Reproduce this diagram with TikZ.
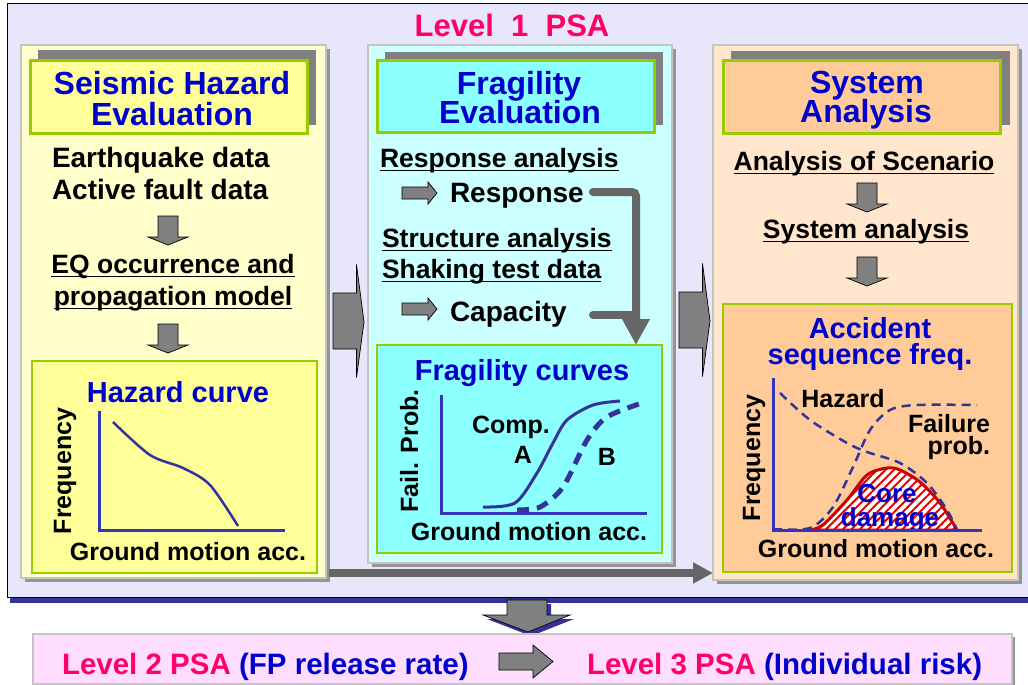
\documentclass[tikz,border=0pt]{standalone}
\usepackage{fontspec}
\setmainfont{Liberation Sans}
\usetikzlibrary{arrows.meta,patterns.meta}
\newcommand{\ulx}[1]{\setbox0\hbox{#1}\rlap{\rule[-4.3pt]{\wd0}{1.8pt}}\box0}
\newcommand{\fsz}[2]{\fontsize{#1}{#2}\selectfont}
\definecolor{frameBG}{HTML}{E8E6FA}
\definecolor{navy}{HTML}{333399}
\definecolor{panY}{HTML}{FFFFCC}
\definecolor{titY}{HTML}{FFFF99}
\definecolor{panC}{HTML}{CCFFFF}
\definecolor{titC}{HTML}{8CFFFF}
\definecolor{panO}{HTML}{FFE6CC}
\definecolor{titO}{HTML}{FFCC99}
\definecolor{greenB}{HTML}{99CC00}
\definecolor{pborder}{HTML}{C4C4C4}
\definecolor{pshadow}{HTML}{959595}
\definecolor{tshadow}{HTML}{808080}
\definecolor{tblue}{HTML}{0000CC}
\definecolor{pinkR}{HTML}{FF0066}
\definecolor{axblue}{HTML}{3333BB}
\definecolor{crvblue}{HTML}{333399}
\definecolor{conngray}{HTML}{666666}
\definecolor{arrgray}{HTML}{808080}
\definecolor{botpink}{HTML}{FFDDFF}
\definecolor{cdred}{HTML}{CC0000}
\tikzset{
  darrow/.pic={\path[blk] (-10,0) -- (10,0) -- (10,21) -- (20,21) -- (0,29) -- (-20,21) -- (-10,21) -- cycle;},
  rarrow/.pic={\path[blk] (0,-6) -- (26,-6) -- (26,-11) -- (35,0) -- (26,11) -- (26,6) -- (0,6) -- cycle;},
  sarrow/.pic={\path[blk] (0,-28) -- (23.5,-28) -- (23.5,-56.5) -- (31,1) -- (23.5,56.5) -- (23.5,28) -- (0,28) -- cycle;},
  barrow/.pic={\path[blk] (0,-8.5) -- (34,-8.5) -- (34,-16.5) -- (54,0) -- (34,16.5) -- (34,8.5) -- (0,8.5) -- cycle;}
}
\begin{document}
\begin{tikzpicture}[x=1pt,y=-1pt,
  every node/.style={inner sep=0pt,outer sep=0pt},
  txt/.style={font=\bfseries\fsz{28}{32}},
  utx/.style={font=\bfseries\fsz{26.5}{30}},
  ttl/.style={font=\bfseries\fsz{32}{32},text=tblue},
  sub/.style={font=\bfseries\fsz{29}{29},text=tblue},
  lab/.style={font=\bfseries\fsz{25}{25}},
  blk/.style={fill=arrgray,draw=black,line width=0.7pt},
  conn/.style={draw=conngray,line width=8pt},
  axis/.style={draw=axblue,line width=3pt},
  crv/.style={draw=crvblue,line width=2.5pt},
  dsh/.style={draw=crvblue,line width=2.5pt,dash pattern=on 9pt off 6pt},
  panel/.style={draw=pborder,line width=2.5pt,anchor=north west},
  tbox/.style={draw=greenB,line width=3pt,anchor=north west},
  gbox/.style={draw=greenB,line width=1.5pt,anchor=north west}
]
\useasboundingbox (0,0) rectangle (1028,685);
% outer frame
\fill[navy] (10,8) rectangle (1040,603);
\node[draw=black,line width=1pt,fill=frameBG,anchor=north west,minimum width=1040pt,minimum height=593pt] (frame) at (7,4) {};
\node[font=\bfseries\fsz{31}{31},text=pinkR,anchor=base] (l1psa) at (512,37) {Level\ \ 1\ \ PSA};

% panel shadows
\fill[pshadow] (25,49) rectangle (330,582);
\fill[pshadow] (372,49) rectangle (676,567);
\fill[pshadow] (717,49) rectangle (1022,584);
% panels
\node[panel,fill=panY,minimum width=305pt,minimum height=533pt] (lp) at (21,45) {};
\node[panel,fill=panC,minimum width=304pt,minimum height=518pt] (mp) at (368,45) {};
\node[panel,fill=panO,minimum width=305pt,minimum height=535pt] (rp) at (713,45) {};
% title shadows
\fill[tshadow] (38,50) rectangle (316,125);
\fill[tshadow] (385,52) rectangle (663,125);
\fill[tshadow] (731,51) rectangle (1010,125);
% title boxes
\node[tbox,fill=titY,minimum width=277pt,minimum height=72pt] (ltb) at (30,61) {};
\node[tbox,fill=titC,minimum width=277pt,minimum height=71pt] (mtb) at (377,61) {};
\node[tbox,fill=titO,minimum width=277pt,minimum height=72pt] (rtb) at (723,61) {};

% ---------- left panel ----------
\node[ttl,anchor=base] (lt1) at (172,95) {Seismic Hazard};
\node[ttl,anchor=base] (lt2) at (172,125) {Evaluation};
\node[txt,anchor=base west] (eq1) at (52,167) {Earthquake data};
\node[txt,anchor=base west] (eq2) at (52,199) {Active fault data};
\pic at (168,216) {darrow};
\node[utx,anchor=base] (eq3) at (173,273) {\ulx{EQ occurrence and}};
\node[utx,anchor=base] (eq4) at (173,305) {\ulx{propagation model}};
\pic at (168,324) {darrow};
\node[gbox,fill=titY,minimum width=285pt,minimum height=212pt] (hb) at (32,361) {};
\node[sub,anchor=base] (hct) at (178,402) {Hazard curve};
\node[lab,rotate=90,anchor=base] (hfy) at (71,471) {Frequency};
\node[lab,anchor=base] (hfx) at (188,560) {Ground motion acc.};
\draw[crv] plot[smooth] coordinates {(113,422) (150,455) (183,468) (210,485) (238,526)};
\draw[axis] (99,411) -- (99,530) -- (285,530);

% ---------- middle panel ----------
\node[ttl,anchor=base] (mt1) at (519,95) {Fragility};
\node[ttl,anchor=base] (mt2) at (520,123) {Evaluation};
\node[utx,anchor=base west] (ra) at (380,167) {\ulx{Response analysis}};
\pic at (402,193) {rarrow};
\node[txt,anchor=base west] (resp) at (450,202) {Response};
\node[utx,anchor=base west] (sa) at (382,247) {\ulx{Structure analysis}};
\node[utx,anchor=base west] (st) at (382,278) {\ulx{Shaking test data}};
\pic at (402,309) {rarrow};
\node[txt,anchor=base west] (cap) at (450,321) {Capacity};
\node[gbox,fill=titC,minimum width=285pt,minimum height=208pt] (fb) at (377,345) {};
\coordinate (rs) at (593,192);
\coordinate (cs) at (593,315);
\coordinate (jn) at (636,192);
\draw[conn,line cap=round] (cs) -- (cs -| jn);
\draw[conn,line cap=round,rounded corners=4pt,-{Triangle[length=26pt,width=26pt]}] (rs) -- (jn) -- (jn |- fb.north);
\node[sub,anchor=base] (fct) at (522,380) {Fragility curves};
\node[lab,rotate=90,anchor=base] (ffy) at (418,451) {Fail. Prob.};
\node[lab,anchor=base] (comp) at (511,433) {Comp.};
\node[lab,anchor=base] (ca) at (523,463) {A};
\node[lab,anchor=base] (cb) at (607,465) {B};
\node[lab,anchor=base] (ffx) at (529,540) {Ground motion acc.};
\draw[crv,line width=3pt] plot[smooth] coordinates {(483,507) (515,503) (537,473) (553,443) (567,420) (593,405) (620,401)};
\draw[draw=crvblue,line width=5pt,dash pattern=on 12pt off 8pt] plot[smooth] coordinates {(517,510) (540,507) (563,487) (587,440) (607,417) (642,403)};
\draw[axis] (441,395) -- (441,513) -- (647,513);

% ---------- right panel ----------
\node[ttl,anchor=base] (rt1) at (867,93) {System};
\node[ttl,anchor=base] (rt2) at (866,122) {Analysis};
\node[utx,anchor=base] (aos) at (864,170) {\ulx{Analysis of Scenario}};
\pic at (867,183) {darrow};
\node[utx,anchor=base] (sys) at (866,238) {\ulx{System analysis}};
\pic at (867,257) {darrow};
\node[gbox,fill=titO,minimum width=289pt,minimum height=268pt] (ab) at (723,304) {};
\node[sub,anchor=base] (ac1) at (870,338) {Accident};
\node[sub,anchor=base] (ac2) at (870,364) {sequence freq.};
\draw[draw=cdred,line width=3pt,preaction={fill=white},pattern={Lines[angle=45,distance=6pt,line width=2pt]},pattern color=red!90!black] plot[smooth] coordinates {(810,530) (823,525) (847,500) (867,475) (887,468) (900,470) (920,482) (940,503) (957,530)} -- cycle;
\draw[dsh] plot[smooth] coordinates {(780,393) (810,420) (847,443) (867,452) (900,463) (927,483) (947,510) (957,530)};
\draw[dsh] plot[smooth] coordinates {(773,529) (810,528) (833,507) (853,467) (870,430) (890,410) (917,405) (977,405)};
\node[lab,rotate=90,anchor=base] (afy) at (760,458) {Frequency};
\node[lab,anchor=base] (haz) at (843,407) {Hazard};
\node[lab,anchor=base east] (fp1) at (990,432) {Failure};
\node[lab,anchor=base east] (fp2) at (990,454) {prob.};
\node[font=\bfseries\fsz{26}{26},text=tblue,anchor=base] (cd1) at (887,502) {Core};
\node[font=\bfseries\fsz{26}{26},text=tblue,anchor=base] (cd2) at (890,526) {damage};
\node[lab,anchor=base] (afx) at (876,557) {Ground motion acc.};
\draw[axis] (773,378) -- (773,530) -- (982,530);

% ---------- arrows between panels ----------
\pic at (333,321) {sarrow};
\pic at (679,320) {sarrow};
\coordinate (hs) at (329,573);
\draw[conn,-{Triangle[length=20pt,width=20pt]}] (hs) -- (hs -| rp.west);

% ---------- bottom ----------
\fill[navy] (511,604) -- (551,604) -- (551,619) -- (574,619) -- (531,636) -- (487,619) -- (511,619) -- cycle;
\path[blk] (507,600) -- (547,600) -- (547,615) -- (570,615) -- (528,632) -- (483,615) -- (507,615) -- cycle;
\fill[pshadow] (36,637) rectangle (1015,688);
\node[draw=pborder,line width=1.2pt,fill=botpink,anchor=north west,minimum width=979pt,minimum height=50pt] (bb) at (33,634) {};
\node[font=\bfseries\fsz{29.5}{29.5},anchor=base west] (l2) at (62,674) {\textcolor{pinkR}{Level 2 PSA} \textcolor{tblue}{(FP release rate)}};
\pic at (499,661.5) {barrow};
\node[font=\bfseries\fsz{29.5}{29.5},anchor=base west] (l3) at (587,674) {\textcolor{pinkR}{Level 3 PSA} \textcolor{tblue}{(Individual risk)}};
\end{tikzpicture}
\end{document}
